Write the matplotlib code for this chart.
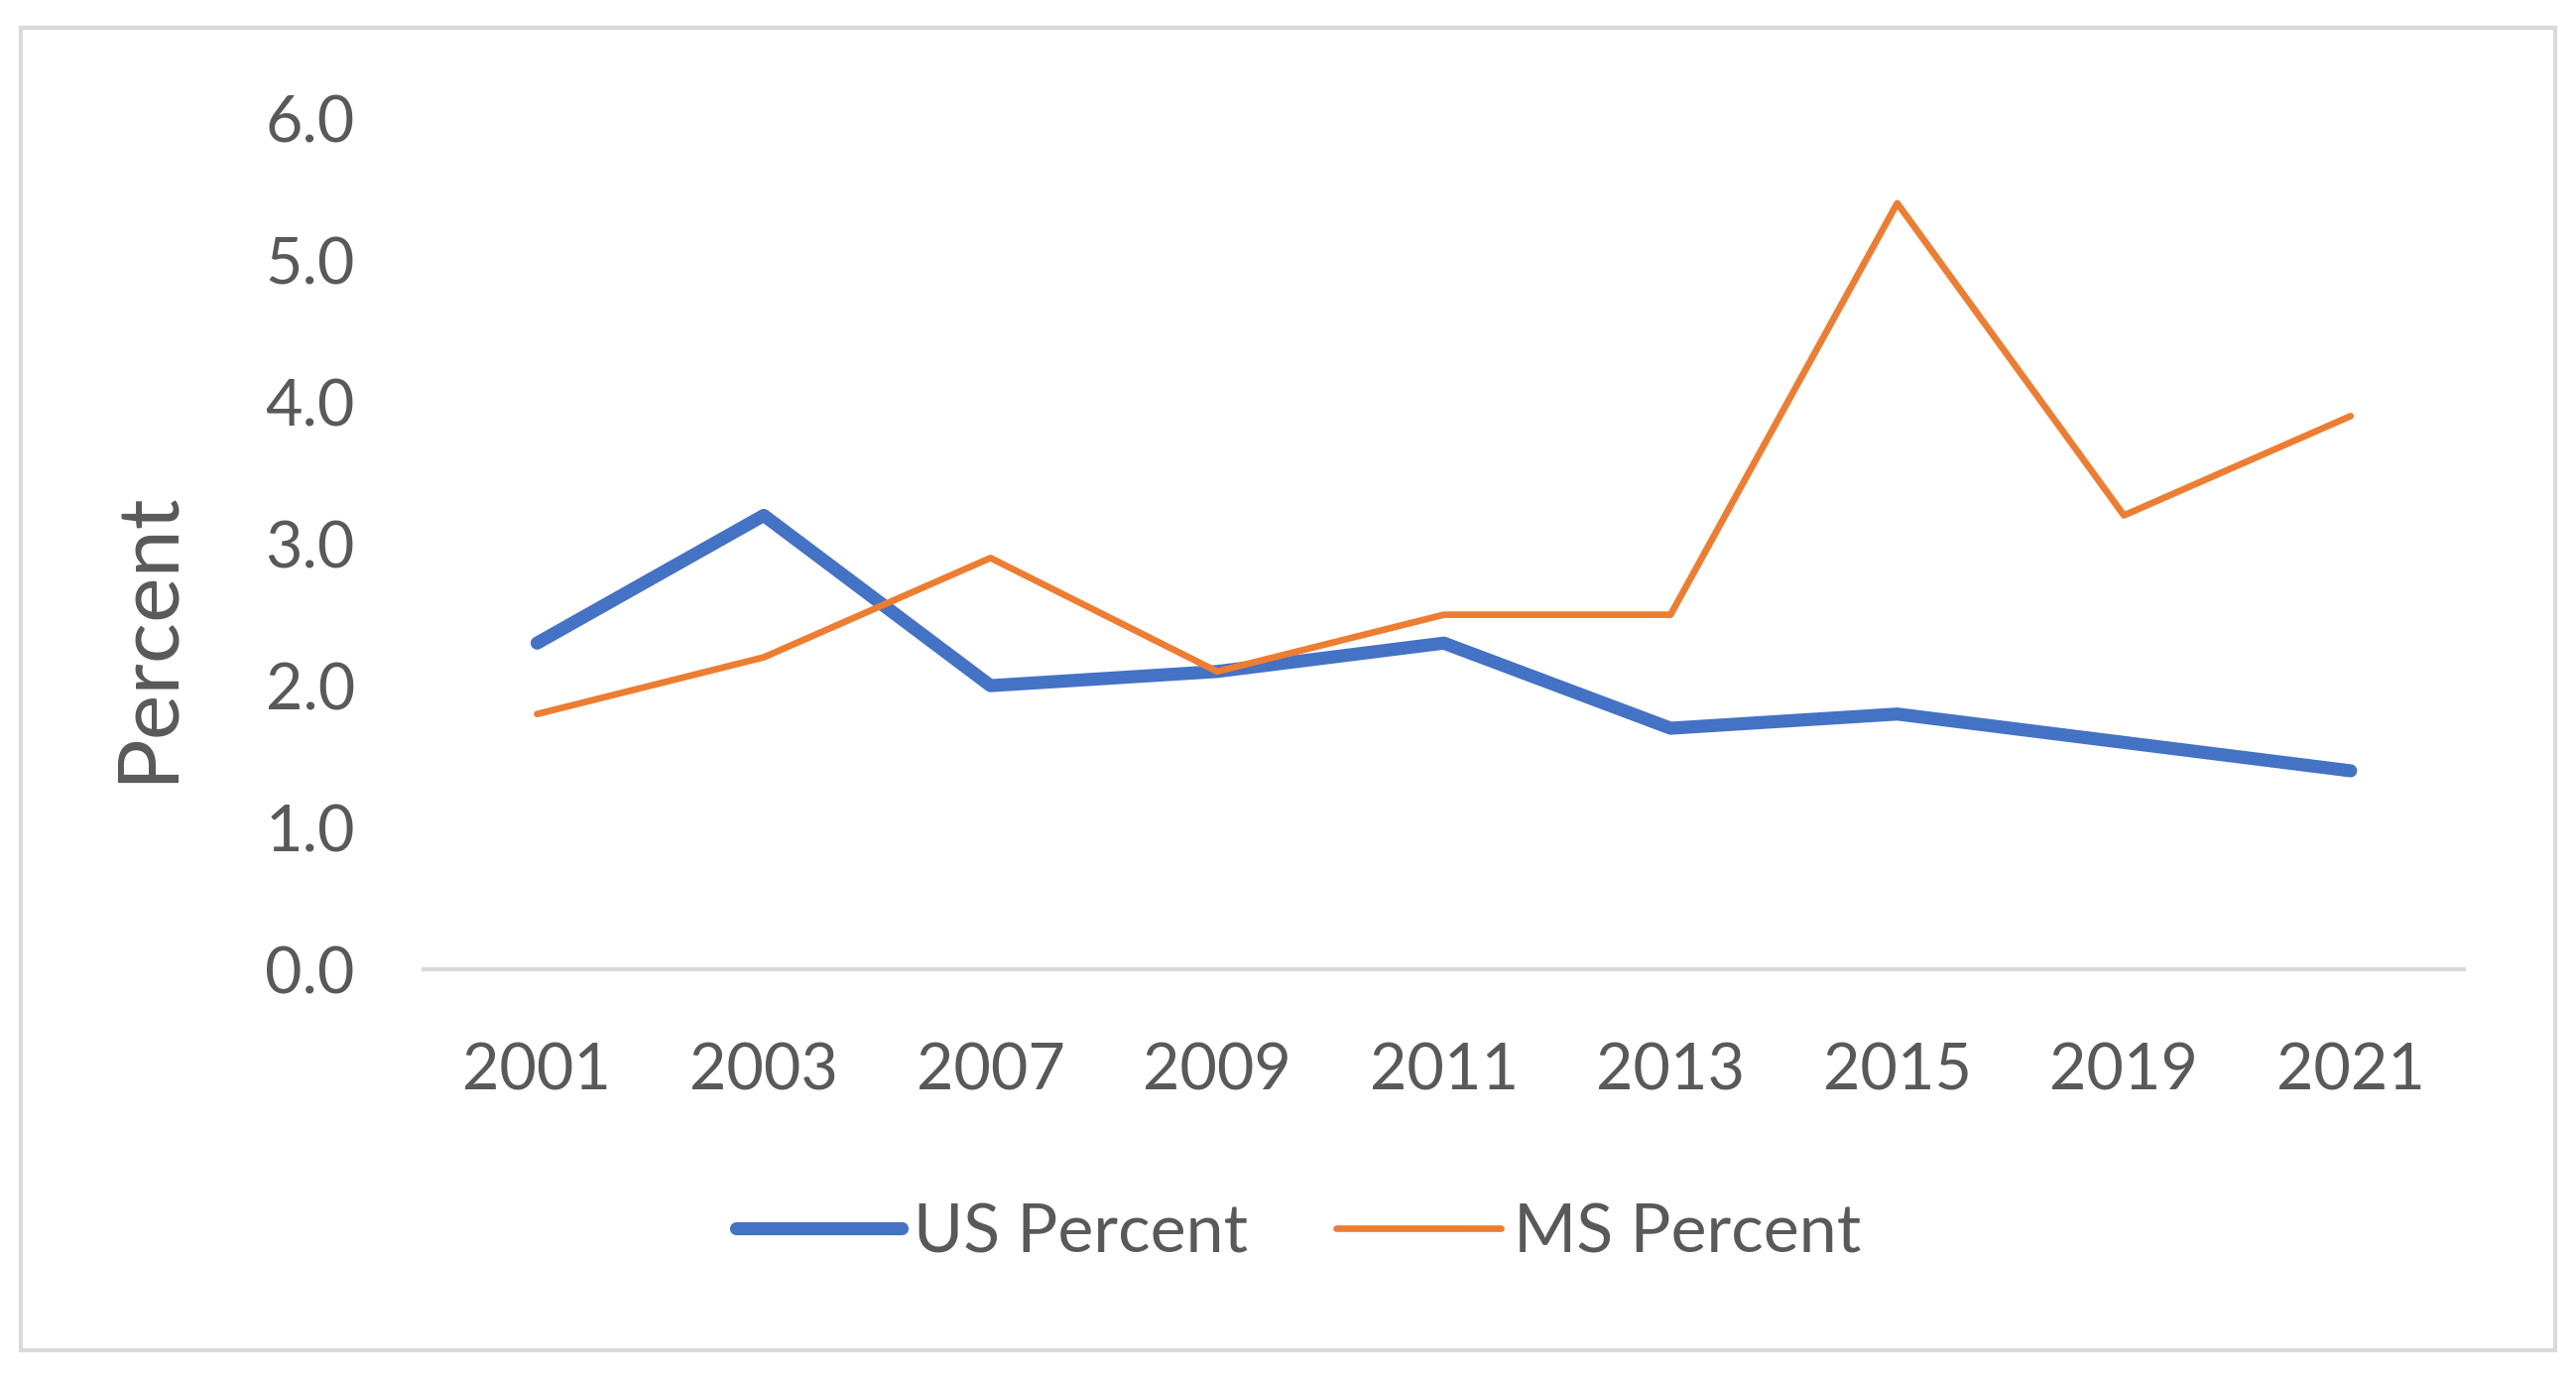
import matplotlib
matplotlib.use("Agg")
import matplotlib.pyplot as plt
from matplotlib.patches import Rectangle

# data
years = ["2001", "2003", "2007", "2009", "2011", "2013", "2015", "2019", "2021"]
us_percent = [2.3, 3.2, 2.0, 2.1, 2.3, 1.7, 1.8, 1.6, 1.4]
ms_percent = [1.8, 2.2, 2.9, 2.1, 2.5, 2.5, 5.4, 3.2, 3.9]

plt.rcParams['font.family'] = ['Lato', 'DejaVu Sans']
txt = '#595959'
grid = '#D9D9D9'

fig = plt.figure(figsize=(25.97, 13.92), dpi=100)
ax = fig.add_axes([0.1645, 0.298, 0.792, 0.6165])

x = range(len(years))
ax.plot(x, us_percent, color='#4472C4', lw=9.5, solid_capstyle='round',
        solid_joinstyle='round', label='US Percent')
ax.plot(x, ms_percent, color='#ED7D31', lw=4.8, solid_capstyle='round',
        solid_joinstyle='round', label='MS Percent')

ax.set_xlim(-0.5, len(years) - 0.5)
ax.set_ylim(0, 6)
ax.set_yticks([0, 1, 2, 3, 4, 5, 6])
ax.set_yticklabels([f"{v:.1f}" for v in range(7)])
ax.set_xticks(list(x))
ax.set_xticklabels(years)
ax.tick_params(axis='both', length=0, labelsize=46.5, labelcolor=txt)
ax.tick_params(axis='y', pad=50)
ax.tick_params(axis='x', pad=53)

for s in ['top', 'right', 'left']:
    ax.spines[s].set_visible(False)
ax.spines['bottom'].set_color(grid)
ax.spines['bottom'].set_linewidth(3)

# axis title sits a bit below the middle of the axis in the original
fig.text(90 / 1568, 1 - 387 / 840, 'Percent', rotation=90, ha='center', va='center',
         fontsize=62, color=txt)

fig.legend(loc='center', bbox_to_anchor=(0.504, 0.107), ncol=2, frameon=False,
           fontsize=49, labelcolor=txt, handlelength=2.45, handletextpad=0.18,
           columnspacing=1.3)

# light border around the whole chart
fig.patches.append(Rectangle((0.008, 0.022), 0.984, 0.958, transform=fig.transFigure,
                             fill=False, edgecolor=grid, lw=3))

fig.savefig('out.png', dpi=100)
